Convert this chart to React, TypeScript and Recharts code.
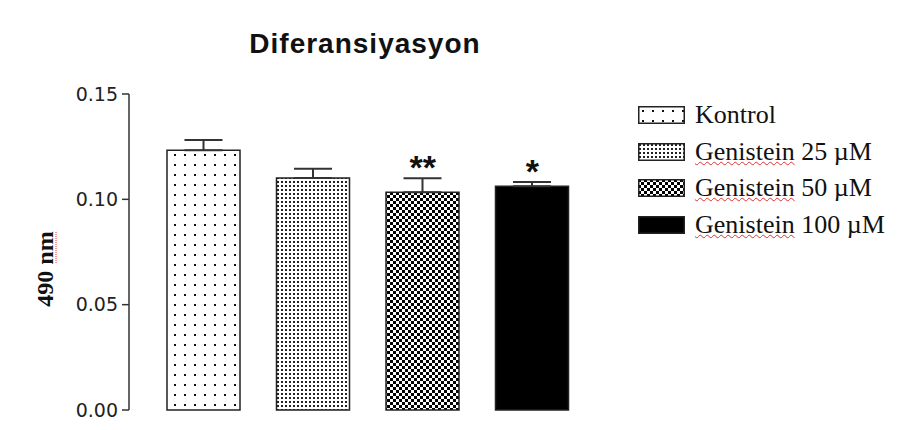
import { Bar, Cell, ComposedChart, ErrorBar, Line, XAxis, YAxis } from "recharts";

const groups = ["Kontrol", "Genistein 25 µM", "Genistein 50 µM", "Genistein 100 µM"];
const means = [0.1233, 0.1101, 0.1034, 0.1062];
const sems = [0.0049, 0.0044, 0.0066, 0.002];
const stars = ["", "", "**", "*"];
const yTicks = [0, 0.05, 0.1, 0.15];

const data = groups.map((name, i) => ({
  name,
  mean: means[i],
  err: [0, sems[i]],
  top: means[i] + sems[i],
  sig: stars[i],
}));

const patternIds = ["pKontrol", "pG25", "pG50", "pG100"];

function Patterns() {
  return (
    <defs>
      <pattern id="pKontrol" width="10" height="10" patternUnits="userSpaceOnUse">
        <rect width="10" height="10" fill="#fff" />
        <rect x="4" y="4" width="2" height="2" fill="#111" />
      </pattern>
      <pattern id="pG25" width="4" height="4" patternUnits="userSpaceOnUse">
        <rect width="4" height="4" fill="#fff" />
        <rect x="1" y="1" width="2" height="2" fill="#222" />
      </pattern>
      <pattern id="pG50" width="6" height="6" patternUnits="userSpaceOnUse">
        <rect width="6" height="6" fill="#fff" />
        <rect x="0" y="0" width="3" height="3" fill="#000" />
        <rect x="3" y="3" width="3" height="3" fill="#000" />
      </pattern>
      <pattern id="pG100" width="4" height="4" patternUnits="userSpaceOnUse">
        <rect width="4" height="4" fill="#000" />
      </pattern>
    </defs>
  );
}

const StarLabel = (props: any) => {
  const { x, y, index } = props;
  const s = stars[index];
  if (!s) return null;
  return (
    <text x={x} y={y + 1} textAnchor="middle" fontFamily="Arial, 'Liberation Sans'" fontWeight="bold" fontSize={34} fill="#111">
      {s}
    </text>
  );
};

const YLabel = (props: any) => {
  const vb = props.viewBox;
  const cx = vb.x + 15;
  const cy = vb.y + vb.height / 2 + 17;
  return (
    <g>
      <text
        x={cx}
        y={cy}
        transform={`rotate(-90, ${cx}, ${cy})`}
        textAnchor="middle"
        dominantBaseline="central"
        fontFamily="'Times New Roman', 'Liberation Serif', serif"
        fontWeight="bold"
        fontSize={24}
        fill="#111"
      >
        490 nm
      </text>
      {/* spell-check squiggle under "nm" */}
      <line x1={cx + 11} y1={cy - 37} x2={cx + 11} y2={cy - 6} stroke="#e03030" strokeWidth={1} strokeDasharray="1 1" />
    </g>
  );
};

export default function App() {
  return (
    <div style={{ position: "absolute", left: 0, top: 0, width: 900, height: 430, background: "#fff" }}>
      <div
        style={{
          position: "absolute",
          left: 165,
          width: 400,
          top: 27,
          textAlign: "center",
          fontFamily: "Arial, 'Liberation Sans', sans-serif",
          fontWeight: "bold",
          fontSize: 28,
          letterSpacing: 1,
          lineHeight: "34px",
          color: "#111",
        }}
      >
        Diferansiyasyon
      </div>
      <ComposedChart width={900} height={430} data={data} margin={{ top: 94, right: 313, bottom: 20, left: 30 }}>
        <Patterns />
        <XAxis dataKey="name" hide padding={{ left: 20, right: 0 }} />
        <YAxis
          width={99}
          domain={[0, 0.15]}
          ticks={yTicks}
          tickFormatter={(v) => v.toFixed(2)}
          tick={{ fontFamily: "'DejaVu Sans'", fontSize: 19, fill: "#222" }}
          tickSize={7}
          tickMargin={4}
          stroke="#333"
          axisLine={{ stroke: "#333", strokeWidth: 1.5 }}
          tickLine={{ stroke: "#333", strokeWidth: 1.5 }}
          label={<YLabel />}
        />
        <Bar dataKey="mean" barSize={73} stroke="#222" strokeWidth={1.5} isAnimationActive={false}>
          {data.map((d, i) => (
            <Cell key={d.name} fill={`url(#${patternIds[i]})`} />
          ))}
          <ErrorBar dataKey="err" width={19} stroke="#333" strokeWidth={2} direction="y" />
        </Bar>
        <Line dataKey="top" stroke="none" dot={false} activeDot={false} isAnimationActive={false} label={<StarLabel />} />
      </ComposedChart>
      <div style={{ position: "absolute", left: 638, top: 97 }}>
        {groups.map((g, i) => (
          <div key={g} style={{ display: "flex", alignItems: "center", height: 36.5 }}>
            <svg width={47} height={18} style={{ display: "block" }}>
              <rect x={0.75} y={0.75} width={45.5} height={16.5} fill={`url(#${patternIds[i]})`} stroke="#222" strokeWidth={1.5} />
            </svg>
            <span
              style={{
                marginLeft: 10,
                fontFamily: "'Times New Roman', 'Liberation Serif', serif",
                fontSize: 26,
                color: "#111",
                lineHeight: "30px",
              }}
            >
              {i === 0 ? (
                g
              ) : (
                <>
                  <span style={{ textDecoration: "underline wavy #e03030", textDecorationThickness: 1 }}>Genistein</span>
                  {g.slice(9)}
                </>
              )}
            </span>
          </div>
        ))}
      </div>
    </div>
  );
}
